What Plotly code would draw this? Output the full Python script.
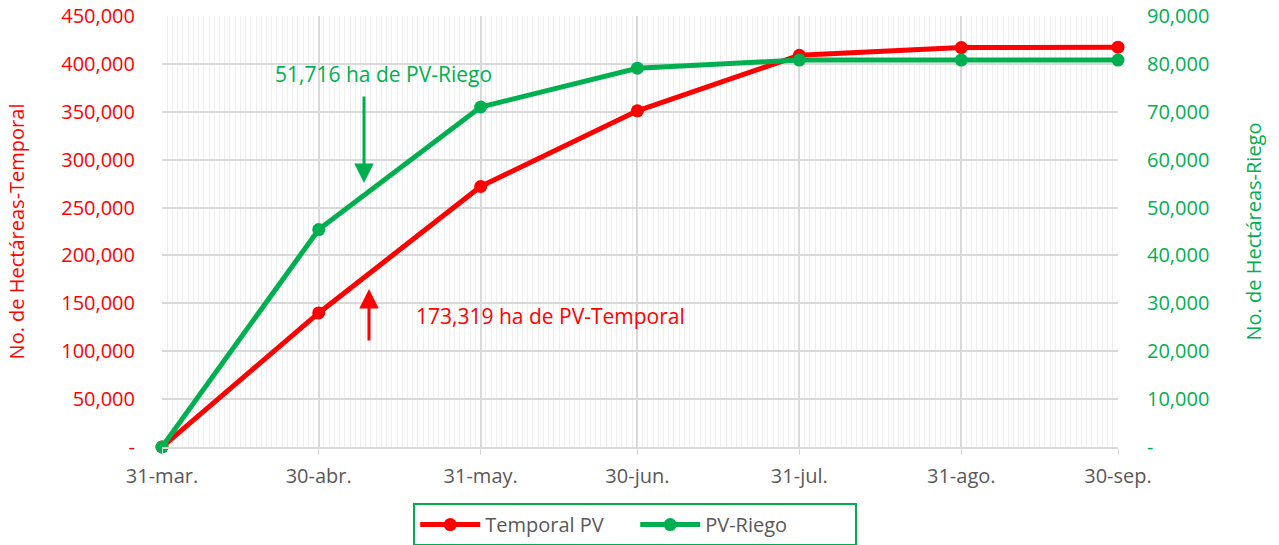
import plotly.graph_objects as go

dates = ["2023-03-31", "2023-04-30", "2023-05-31", "2023-06-30", "2023-07-31", "2023-08-31", "2023-09-30"]
tick_labels = ["31-mar.", "30-abr.", "31-may.", "30-jun.", "31-jul.", "31-ago.", "30-sep."]
temporal_pv = [0, 140000, 272000, 351000, 409000, 417000, 417500]
pv_riego = [0, 45400, 71000, 79100, 80800, 80800, 80800]

left_ticks = [0, 50000, 100000, 150000, 200000, 250000, 300000, 350000, 400000, 450000]
right_ticks = [0, 10000, 20000, 30000, 40000, 50000, 60000, 70000, 80000, 90000]

def fmt(v):
    return "-" if v == 0 else f"{v:,}"

RED = "#FF0000"
GREEN = "#00B050"
GRAY = "#595959"
FONT = "Open Sans"

fig = go.Figure()
fig.add_trace(go.Scatter(x=dates, y=temporal_pv, name="Temporal PV", mode="lines+markers",
                         line=dict(color=RED, width=5), marker=dict(size=13, color=RED),
                         cliponaxis=False, yaxis="y"))
fig.add_trace(go.Scatter(x=dates, y=pv_riego, name="PV-Riego", mode="lines+markers",
                         line=dict(color=GREEN, width=5), marker=dict(size=13, color=GREEN),
                         cliponaxis=False, yaxis="y2"))

fig.update_layout(
    width=1279, height=545,
    margin=dict(l=162, r=161, t=16, b=98, autoexpand=False),
    paper_bgcolor="white", plot_bgcolor="white",
    font=dict(family=FONT, color=GRAY, size=20),
    xaxis=dict(
        type="date", range=["2023-03-31", "2023-09-30"], automargin=False,
        tickmode="array", tickvals=dates, ticktext=tick_labels,
        showgrid=True, gridcolor="#d9d9d9", gridwidth=1.5,
        ticks="outside", ticklen=6, tickcolor="#d9d9d9",
        showline=True, linecolor="#d9d9d9", linewidth=1.5,
        tickfont=dict(size=20, color=GRAY), ticklabelstandoff=4,
        ticklabeloverflow="allow",
        minor=dict(tickmode="linear", tick0="2023-03-31", dtick=86400000,
                   showgrid=True, gridcolor="#efefef", gridwidth=1, ticks=""),
        zeroline=False,
    ),
    yaxis=dict(
        range=[0, 450000], tickmode="array", tickvals=left_ticks, automargin=False,
        ticktext=[fmt(v) for v in left_ticks], ticklabeloverflow="allow",
        showgrid=True, gridcolor="#d9d9d9", gridwidth=1.5, zeroline=False,
        tickfont=dict(size=20, color=RED), ticklabelstandoff=26,
        title=dict(text="No. de Hectáreas-Temporal", font=dict(size=20, color=RED), standoff=31),
    ),
    yaxis2=dict(
        range=[0, 90000], overlaying="y", side="right", tickmode="array", automargin=False,
        tickvals=right_ticks, ticktext=[fmt(v) for v in right_ticks], ticklabeloverflow="allow",
        showgrid=False, zeroline=False,
        tickfont=dict(size=20, color=GREEN), ticklabelstandoff=28,
        title=dict(text="No. de Hectáreas-Riego", font=dict(size=20, color=GREEN), standoff=38),
    ),
    legend=dict(orientation="h", x=0.495, xanchor="center", y=-0.13, yanchor="top",
                bordercolor=GREEN, borderwidth=2, font=dict(size=20, color=GRAY),
                itemwidth=60, entrywidth=145),
    showlegend=True,
)

fig.add_annotation(xref="paper", yref="paper", x=0.2312, y=0.8654, xanchor="center", yanchor="middle",
                   text="51,716 ha de PV-Riego", showarrow=False, font=dict(size=21, color=GREEN))
fig.add_annotation(xref="paper", yref="paper", x=0.4059, y=0.304, xanchor="center", yanchor="middle",
                   text="173,319 ha de PV-Temporal", showarrow=False, font=dict(size=21, color=RED))
fig.add_annotation(xref="paper", yref="paper", x=0.2113, y=0.6125, ax=0, ay=-88, text="",
                   showarrow=True, arrowhead=2, arrowsize=1.3, arrowwidth=3, arrowcolor=GREEN)
fig.add_annotation(xref="paper", yref="paper", x=0.2165, y=0.3666, ax=0, ay=53, text="",
                   showarrow=True, arrowhead=2, arrowsize=1.3, arrowwidth=3, arrowcolor=RED)

fig.write_html("out.html", config={"displayModeBar": False},
               post_script="document.body.style.margin='0';")
